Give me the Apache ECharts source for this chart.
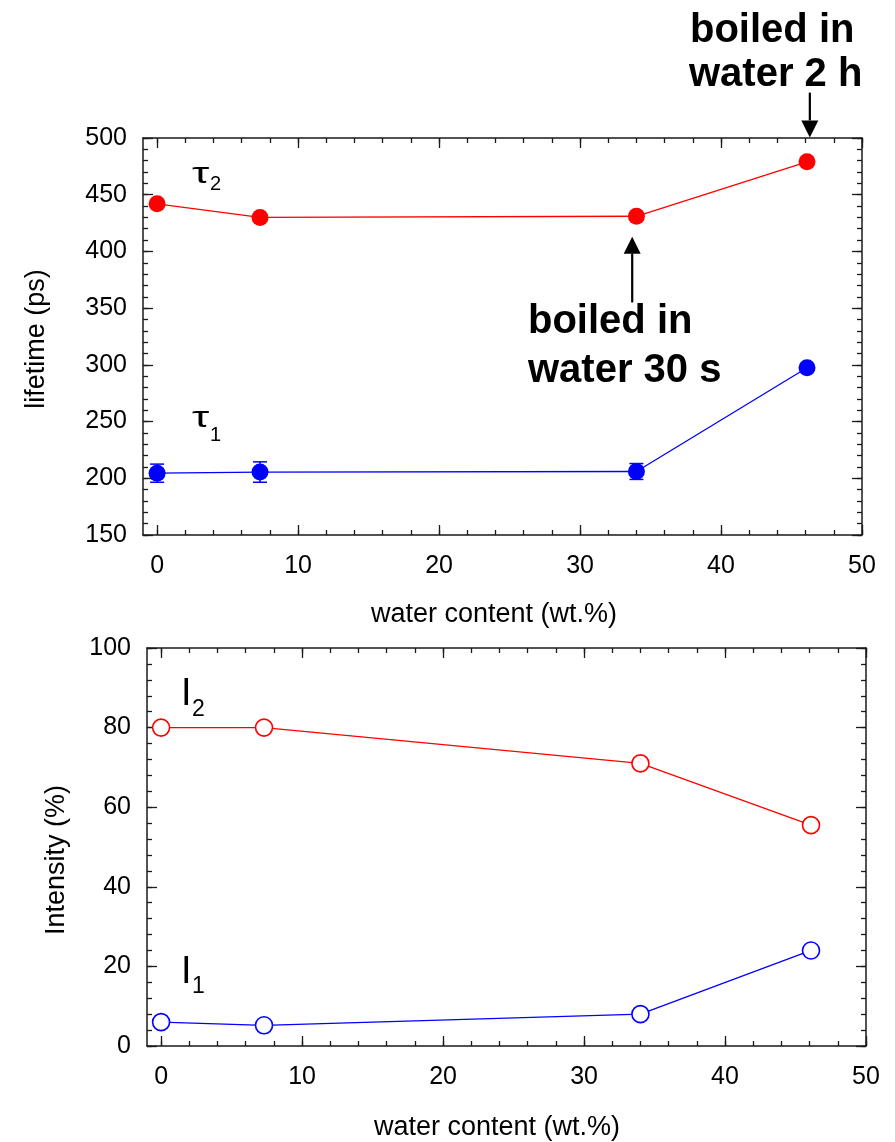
<!DOCTYPE html>
<html>
<head>
<meta charset="utf-8">
<script src="https://cdn.jsdelivr.net/npm/echarts@6/dist/echarts.min.js"></script>
<style>
  html, body { margin: 0; padding: 0; background: #fff; }
  #chart { width: 895px; height: 1142px; }
</style>
</head>
<body>
<div id="chart"></div>
<script>
// data
const waterContent = [0, 7.3, 34, 46.1];
const tau2 = [442, 430, 431, 479];
const tau1 = [204.5, 205.5, 206, 297.5];
const tau1Err = [8, 9, 7, 0];
const intensity2 = [80, 80, 71, 55.5];
const intensity1 = [6, 5.2, 8, 24];

// ticks
const xMajor = [0, 10, 20, 30, 40, 50];
const xMinor = [0, 2, 4, 6, 8, 10, 12, 14, 16, 18, 20, 22, 24, 26, 28, 30, 32, 34, 36, 38, 40, 42, 44, 46, 48, 50];
const lifeMajor = [150, 200, 250, 300, 350, 400, 450, 500];
const lifeMinor = [150, 160, 170, 180, 190, 200, 210, 220, 230, 240, 250, 260, 270, 280, 290, 300, 310, 320, 330, 340, 350, 360, 370, 380, 390, 400, 410, 420, 430, 440, 450, 460, 470, 480, 490, 500];
const intMajor = [0, 20, 40, 60, 80, 100];
const intMinor = [0, 4, 8, 12, 16, 20, 24, 28, 32, 36, 40, 44, 48, 52, 56, 60, 64, 68, 72, 76, 80, 84, 88, 92, 96, 100];

const FONT = "'Liberation Sans', Arial, sans-serif";
const RED = '#ff0000';
const BLUE = '#0000ff';
const INK = '#1a1a1a';

let chart = echarts.init(document.getElementById('chart'));

function pair(v, i) { return [waterContent[i], v]; }

// one axis "layer": major or minor ticks on one side, labels only on main one
function axis(grid, pos, min, max, ticks, len, withLine, margin) {
  return {
    type: 'value',
    gridIndex: grid,
    position: pos,
    min: min,
    max: max,
    axisLine: { show: withLine, onZero: false, lineStyle: { color: INK, width: 1.5 } },
    axisTick: { show: true, inside: true, length: len, customValues: ticks, lineStyle: { color: INK, width: 1.3 } },
    axisLabel: {
      show: margin > 0, customValues: ticks, margin: margin,
      fontFamily: FONT, fontSize: 25, color: '#000'
    },
    splitLine: { show: false },
    minorTick: { show: false }
  };
}

function frame(grid, xmin, xmax, ymin, ymax, yMaj, yMin, xMargin, yMargin) {
  return {
    x: [
      axis(grid, 'bottom', xmin, xmax, xMajor, 10, true, xMargin),
      axis(grid, 'bottom', xmin, xmax, xMinor, 5, false, 0),
      axis(grid, 'top', xmin, xmax, xMajor, 10, true, 0),
      axis(grid, 'top', xmin, xmax, xMinor, 5, false, 0)
    ],
    y: [
      axis(grid, 'left', ymin, ymax, yMaj, 10, true, yMargin),
      axis(grid, 'left', ymin, ymax, yMin, 5, false, 0),
      axis(grid, 'right', ymin, ymax, yMaj, 10, true, 0),
      axis(grid, 'right', ymin, ymax, yMin, 5, false, 0)
    ]
  };
}

let upper = frame(0, -1, 50, 150, 500, lifeMajor, lifeMinor, 19, 16);
let lower = frame(1, -1, 50, 0, 100, intMajor, intMinor, 19, 16);

function errorBars(xi, yi) {
  return {
    type: 'custom',
    xAxisIndex: xi,
    yAxisIndex: yi,
    z: 1,
    data: tau1.map((v, i) => [waterContent[i], v - tau1Err[i], v + tau1Err[i]]).filter((d, i) => tau1Err[i] > 0),
    renderItem(params, api) {
      let lo = api.coord([api.value(0), api.value(1)]);
      let hi = api.coord([api.value(0), api.value(2)]);
      let w = 7;
      let st = { stroke: BLUE, lineWidth: 1.5 };
      return {
        type: 'group',
        children: [
          { type: 'line', shape: { x1: lo[0], y1: lo[1], x2: hi[0], y2: hi[1] }, style: st },
          { type: 'line', shape: { x1: lo[0] - w, y1: lo[1], x2: lo[0] + w, y2: lo[1] }, style: st },
          { type: 'line', shape: { x1: hi[0] - w, y1: hi[1], x2: hi[0] + w, y2: hi[1] }, style: st }
        ]
      };
    }
  };
}

function lineSeries(data, color, xi, yi, hollow) {
  return {
    type: 'line',
    xAxisIndex: xi,
    yAxisIndex: yi,
    data: data.map(pair),
    symbol: 'circle',
    symbolSize: 17,
    showSymbol: true,
    z: 3,
    lineStyle: { color: color, width: 1.3 },
    itemStyle: hollow
      ? { color: '#fff', borderColor: color, borderWidth: 1.6 }
      : { color: color, borderWidth: 0 },
    emphasis: { disabled: true },
    animation: false
  };
}

function txt(x, y, s, size, extra) {
  return {
    type: 'text', x: x, y: y, silent: true,
    style: Object.assign({ text: s, fontFamily: FONT, fontSize: size, fill: '#000', align: 'left', verticalAlign: 'middle' }, extra || {})
  };
}

chart.setOption({
  animation: false,
  backgroundColor: '#fff',
  grid: [
    { left: 143, top: 138, width: 719, height: 397 },
    { left: 147, top: 648, width: 719, height: 398 }
  ],
  xAxis: upper.x.concat(lower.x),
  yAxis: upper.y.concat(lower.y),
  series: [
    errorBars(0, 0),
    lineSeries(tau2, RED, 0, 0, false),
    lineSeries(tau1, BLUE, 0, 0, false),
    lineSeries(intensity2, RED, 4, 4, true),
    lineSeries(intensity1, BLUE, 4, 4, true)
  ]
});

// annotations: arrows anchored in data space, labels and axis titles as text
function arrow(grid, xv, yTail, yTip) {
  let a = chart.convertToPixel({ gridIndex: grid }, [xv, yTail]);
  let b = chart.convertToPixel({ gridIndex: grid }, [xv, yTip]);
  let dir = b[1] > a[1] ? 1 : -1;
  let head = 17, half = 8.5;
  return [
    { type: 'line', silent: true, shape: { x1: a[0], y1: a[1], x2: b[0], y2: b[1] - dir * head }, style: { stroke: '#000', lineWidth: 2.2 } },
    { type: 'polygon', silent: true, shape: { points: [[b[0], b[1]], [b[0] - half, b[1] - dir * head], [b[0] + half, b[1] - dir * head]] }, style: { fill: '#000' } }
  ];
}

let bold = { fontWeight: 'bold' };
let g = [];
g = g.concat(arrow(0, 33.7, 355, 413));
g = g.concat(arrow(0, 46.3, 540, 500.5));

g.push(txt(690, 31, 'boiled in', 40, bold));
g.push(txt(689, 75, 'water 2 h', 40, bold));
g.push(txt(528, 322, 'boiled in', 40, bold));
g.push(txt(528, 371, 'water 30 s', 40, bold));

// series labels (tau drawn wider, like the symbol font of the original)
let t2 = txt(192, 174.5, 'τ', 29); t2.scaleX = 1.5;
let t1 = txt(192, 418.5, 'τ', 29); t1.scaleX = 1.5;
g.push(t2, txt(210, 184, '2', 20));
g.push(t1, txt(210, 435, '1', 20));
g.push(txt(181, 695, 'I', 38), txt(192, 710, '2', 23));
g.push(txt(181, 973, 'I', 38), txt(192, 987, '1', 23));

// axis titles
let mid = { align: 'center' };
g.push(txt(494, 615, 'water content (wt.%)', 27, mid));
g.push(txt(497, 1128, 'water content (wt.%)', 27, mid));
let yt1 = txt(37, 339, 'lifetime (ps)', 27, mid); yt1.rotation = Math.PI / 2;
let yt2 = txt(57, 860, 'Intensity (%)', 27, mid); yt2.rotation = Math.PI / 2;
g.push(yt1, yt2);

chart.setOption({ graphic: g });
</script>
</body>
</html>
